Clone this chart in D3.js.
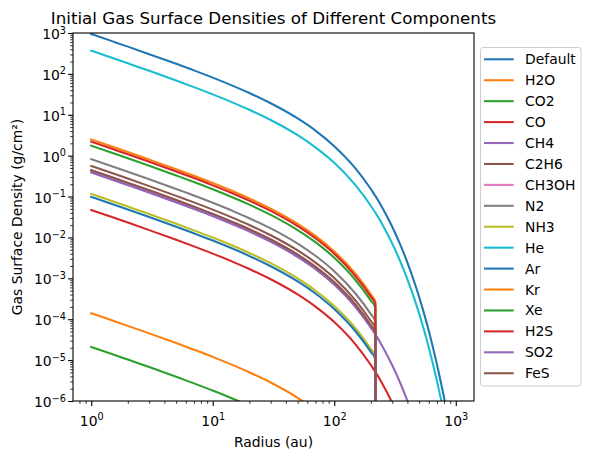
<!DOCTYPE html>
<html>
<head>
<meta charset="utf-8">
<script src="https://cdn.jsdelivr.net/npm/d3@7"></script>
<style>
  body { margin: 0; background: #fff; }
  svg { display: block; }
  text { font-family: 'DejaVu Sans', sans-serif; }
</style>
</head>
<body>
<svg id="chart" width="590" height="459"></svg>
<script>
// radius grid (au) shared by all series
const radius = [1, 1.5, 2, 3, 5, 7, 10, 15, 20, 30, 50, 70, 100, 150, 200, 218, 219, 250, 300, 350, 400, 450, 500, 550, 600, 650, 700, 750, 800, 850, 900, 1000]

const names = ['Default', 'H2O', 'CO2', 'CO', 'CH4', 'C2H6', 'CH3OH', 'N2', 'NH3', 'He', 'Ar', 'Kr', 'Xe', 'H2S', 'SO2', 'FeS']
const colors = ['#1f77b4', '#ff7f0e', '#2ca02c', '#d62728', '#9467bd', '#8c564b', '#e377c2', '#7f7f7f', '#bcbd22', '#17becf', '#1f77b4', '#ff7f0e', '#2ca02c', '#d62728', '#9467bd', '#8c564b']

const defaultVals = [945, 624, 464, 304, 176, 122, 80.9, 49.5, 34.0, 19.1, 8.12, 4.11, 1.71, 0.483, 0.153, 0.103, 0.101, 0.0516, 0.0182, 0.00658, 0.00243, 9.12e-4, 3.47e-4, 1.33e-4, 5.15e-5, 2.01e-5, 7.87e-6, 3.10e-6, 1.23e-6, 4.88e-7, 1.95e-7, 3.13e-8]
const h2oVals = [2.5, 1.65, 1.23, 0.805, 0.467, 0.322, 0.214, 0.131, 0.0901, 0.0506, 0.0215, 0.0109, 0.00453, 0.00128, 4.05e-4, 2.72e-4, 0]
const co2Vals = [1.76, 1.16, 0.865, 0.567, 0.328, 0.227, 0.151, 0.0922, 0.0634, 0.0356, 0.0151, 0.00765, 0.00319, 8.99e-4, 2.85e-4, 1.91e-4, 0]
const coVals = [0.047, 0.0311, 0.0231, 0.0151, 0.00877, 0.00605, 0.00402, 0.00246, 0.00169, 9.50e-4, 4.04e-4, 2.04e-4, 8.52e-5, 2.40e-5, 7.60e-6, 5.11e-6, 5.01e-6, 2.57e-6, 9.04e-7, 3.27e-7, 1.21e-7]
const ch4Vals = [0.39, 0.258, 0.192, 0.126, 0.0728, 0.0502, 0.0334, 0.0204, 0.0141, 0.00789, 0.00335, 0.00170, 7.07e-4, 1.99e-4, 6.31e-5, 4.24e-5, 4.15e-5, 2.13e-5, 7.50e-6, 2.72e-6, 1.00e-6, 3.77e-7, 1.43e-7]
const c2h6Vals = [0.56, 0.370, 0.275, 0.180, 0.104, 0.0721, 0.0479, 0.0293, 0.0202, 0.0113, 0.00481, 0.00243, 0.00102, 2.86e-4, 9.06e-5, 6.09e-5, 0]
const ch3ohVals = [0.44, 0.291, 0.216, 0.142, 0.0821, 0.0567, 0.0377, 0.0230, 0.0159, 0.00890, 0.00378, 0.00191, 7.98e-4, 2.25e-4, 7.12e-5, 4.79e-5, 0]
const n2Vals = [0.82, 0.542, 0.403, 0.264, 0.153, 0.106, 0.0702, 0.0429, 0.0295, 0.0166, 0.00705, 0.00356, 0.00149, 4.19e-4, 1.33e-4, 8.92e-5, 0]
const nh3Vals = [0.116, 0.0767, 0.0570, 0.0374, 0.0216, 0.0149, 0.00993, 0.00607, 0.00418, 0.00235, 9.97e-4, 5.04e-4, 2.10e-4, 5.93e-5, 1.88e-5, 1.26e-5, 0]
const heVals = [369, 244, 181, 119, 68.8, 47.5, 31.6, 19.3, 13.3, 7.46, 3.17, 1.60, 0.669, 0.188, 0.0597, 0.0401, 0.0393, 0.0202, 0.00710, 0.00257, 9.49e-4, 3.56e-4, 1.35e-4, 5.20e-5, 2.01e-5, 7.85e-6, 3.07e-6, 1.21e-6, 4.80e-7, 1.91e-7, 7.6e-8, 1.2e-8]
const arVals = [0.098, 0.0648, 0.0482, 0.0316, 0.0183, 0.0126, 0.00839, 0.00513, 0.00353, 0.00198, 8.42e-4, 4.26e-4, 1.78e-4, 5.01e-5, 1.59e-5, 1.07e-5, 0]
const krVals = [1.4e-4, 9.25e-5, 6.88e-5, 4.51e-5, 2.61e-5, 1.80e-5, 1.20e-5, 7.33e-6, 5.04e-6, 2.83e-6, 1.20e-6, 6.09e-7, 2.54e-7]
const xeVals = [2.1e-5, 1.39e-5, 1.03e-5, 6.76e-6, 3.92e-6, 2.70e-6, 1.80e-6, 1.10e-6, 7.57e-7, 4.25e-7]
const h2sVals = [2.2, 1.45, 1.08, 0.708, 0.411, 0.283, 0.188, 0.115, 0.0793, 0.0445, 0.0189, 0.00956, 0.00399, 0.00112, 3.56e-4, 2.39e-4, 0]
const so2Vals = [0.39, 0.258, 0.192, 0.126, 0.0728, 0.0502, 0.0334, 0.0204, 0.0141, 0.00789, 0.00335, 0.00170, 7.07e-4, 1.99e-4, 6.31e-5, 4.24e-5, 0]
const fesVals = [0.44, 0.291, 0.216, 0.142, 0.0821, 0.0567, 0.0377, 0.0230, 0.0159, 0.00890, 0.00378, 0.00191, 7.98e-4, 2.25e-4, 7.12e-5, 4.79e-5, 0]

const xTicks = [1, 10, 100, 1000]
const yTicks = [1e-6, 1e-5, 1e-4, 1e-3, 1e-2, 1e-1, 1, 10, 100, 1000]

const seriesVals = [defaultVals, h2oVals, co2Vals, coVals, ch4Vals, c2h6Vals, ch3ohVals, n2Vals, nh3Vals, heVals, arVals, krVals, xeVals, h2sVals, so2Vals, fesVals]

const svg = d3.select('#chart')

const margin = { top: 33, right: 116, bottom: 58, left: 73 }
const width = 590 - margin.left - margin.right
const height = 459 - margin.top - margin.bottom

const x = d3.scaleLog().domain([10 ** -0.15, 10 ** 3.15]).range([0, width])
const y = d3.scaleLog().domain([1e-6, 1e3]).range([height, 0])

const g = svg.append('g').attr('transform', `translate(${margin.left},${margin.top})`)

svg.append('defs')
  .append('clipPath')
  .attr('id', 'plot-clip')
  .append('rect')
  .attr('width', width)
  .attr('height', height)

// minor ticks for log axes
const minors = (lo, hi, domain) => {
  const out = []
  for (let e = lo; e <= hi; e++) {
    for (let k = 2; k <= 9; k++) {
      const v = k * 10 ** e
      if (v >= domain[0] && v <= domain[1]) out.push(v)
    }
  }
  return out
}

const expLabel = (sel) => {
  sel.each(function (d) {
    const e = Math.round(Math.log10(d))
    const t = d3.select(this)
    t.text(null)
    t.append('tspan').text('10')
    t.append('tspan').attr('dy', -5.5).attr('font-size', '9.7px').text(String(e).replace('-', '\u2212'))
  })
}

const xAxis = g.append('g')
  .attr('transform', `translate(0,${height})`)
  .call(d3.axisBottom(x).tickValues(xTicks).tickSize(4.9).tickPadding(2.1))
xAxis.select('.domain').remove()
xAxis.selectAll('line').attr('stroke-width', 1.1)
xAxis.selectAll('text')
  .attr('font-size', '13.9px')
  .attr('font-family', 'DejaVu Sans')
  .attr('fill', '#000')
  .attr('y', 24.5)
  .attr('dy', null)
  .call(expLabel)

const xMinor = g.append('g')
  .attr('transform', `translate(0,${height})`)
  .call(d3.axisBottom(x).tickValues(minors(-1, 3, x.domain())).tickSize(2.8).tickFormat(''))
xMinor.select('.domain').remove()
xMinor.selectAll('line').attr('stroke-width', 0.8)

const yAxis = g.append('g')
  .call(d3.axisLeft(y).tickValues(yTicks).tickSize(4.9).tickPadding(2.1))
yAxis.select('.domain').remove()
yAxis.selectAll('line').attr('stroke-width', 1.1)
yAxis.selectAll('text')
  .attr('font-size', '13.9px')
  .attr('font-family', 'DejaVu Sans')
  .attr('fill', '#000')
  .attr('dy', null)
  .attr('y', 5.5)
  .call(expLabel)

const yMinor = g.append('g')
  .call(d3.axisLeft(y).tickValues(minors(-6, 2, y.domain())).tickSize(2.8).tickFormat(''))
yMinor.select('.domain').remove()
yMinor.selectAll('line').attr('stroke-width', 0.8)

// lines; zero values fall off the log axis like matplotlib's clipping
const line = d3.line()
  .x(d => x(d[0]))
  .y(d => (d[1] > 0 ? y(d[1]) : height + 200))
  .curve(d3.curveMonotoneX)

const plot = g.append('g').attr('clip-path', 'url(#plot-clip)')

seriesVals.forEach((vals, i) => {
  plot.append('path')
    .datum(vals.map((v, j) => [radius[j], v]))
    .attr('fill', 'none')
    .attr('stroke', colors[i])
    .attr('stroke-width', 2.08)
    .attr('stroke-linejoin', 'round')
    .attr('stroke-linecap', 'square')
    .attr('d', line)
})

g.append('rect')
  .attr('width', width)
  .attr('height', height)
  .attr('fill', 'none')
  .attr('stroke', '#000')
  .attr('stroke-width', 1.1)

svg.append('text')
  .attr('x', margin.left + width / 2)
  .attr('y', 23.5)
  .attr('text-anchor', 'middle')
  .attr('font-size', '16.7px')
  .text('Initial Gas Surface Densities of Different Components')

svg.append('text')
  .attr('x', margin.left + width / 2)
  .attr('y', 447)
  .attr('text-anchor', 'middle')
  .attr('font-size', '13.9px')
  .text('Radius (au)')

svg.append('text')
  .attr('transform', `translate(22,${margin.top + height / 2}) rotate(-90)`)
  .attr('text-anchor', 'middle')
  .attr('font-size', '13.9px')
  .text('Gas Surface Density (g/cm²)')

// legend
const legend = svg.append('g').attr('transform', 'translate(480.5,47.5)')

legend.append('rect')
  .attr('width', 100.5)
  .attr('height', 338.5)
  .attr('rx', 2.8)
  .attr('fill', '#fff')
  .attr('fill-opacity', 0.8)
  .attr('stroke', '#cccccc')
  .attr('stroke-width', 1)

names.forEach((name, i) => {
  const row = legend.append('g').attr('transform', `translate(0,${11.8 + i * 20.93})`)
  row.append('line')
    .attr('x1', 3.5)
    .attr('x2', 33.2)
    .attr('stroke', colors[i])
    .attr('stroke-width', 2.08)
  row.append('text')
    .attr('x', 44.5)
    .attr('y', 5)
    .attr('font-size', '13.9px')
    .text(name)
})
</script>
</body>
</html>
